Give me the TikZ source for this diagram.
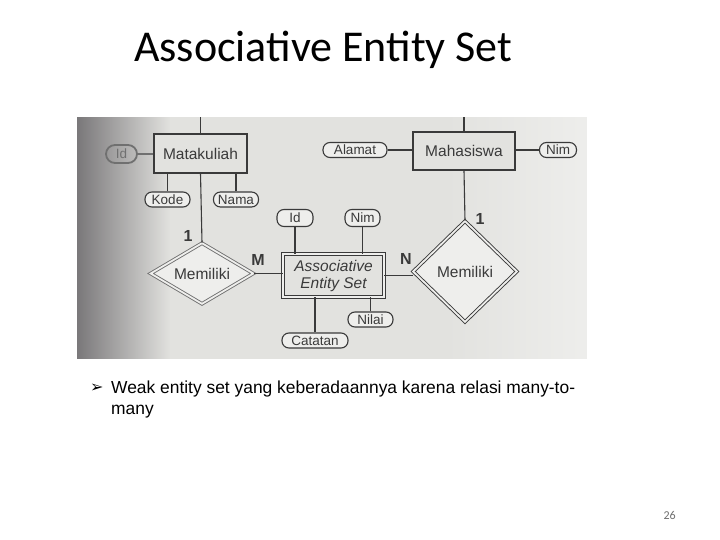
\documentclass[tikz,border=0pt]{standalone}
\usepackage{fontspec}
\setmainfont{Liberation Sans}
\newfontfamily\titlefont{Carlito}
\newfontfamily\symfont{DejaVu Sans}
\usetikzlibrary{shapes.geometric,fadings}
\definecolor{photobg}{RGB}{226,226,223}
\definecolor{photolight}{RGB}{238,238,236}
\definecolor{shadowc}{RGB}{122,120,122}
\definecolor{ink}{RGB}{58,58,58}
\definecolor{faded}{RGB}{112,112,112}
\definecolor{pagenum}{RGB}{110,110,110}
\tikzfading[name=fadeout right, left color=transparent!0, right color=transparent!100]
\tikzfading[name=fadein right, left color=transparent!100, right color=transparent!0]
\begin{document}
\begin{tikzpicture}[x=1pt,y=-1pt,
  ent/.style={draw=ink, line width=1.1pt, fill=photobg, text=ink, rectangle, inner sep=0pt,
              font=\fontsize{15.5}{18}\selectfont},
  dblent/.style={ent, double=photolight, double distance=1.8pt, line width=0.9pt, align=center,
              font=\fontsize{15.5}{18}\selectfont\itshape},
  attr/.style={draw=ink, line width=1.1pt, fill=photolight, text=ink, rectangle, rounded corners=7pt,
              inner sep=0pt, minimum height=15pt, font=\fontsize{13.5}{15}\selectfont},
  rel/.style={diamond, inner sep=0pt, text=ink, fill=photolight, double=photolight,
              double distance=1.8pt, line width=0.9pt, font=\fontsize{15.5}{18}\selectfont},
  conn/.style={draw=ink, line width=1.1pt},
  card/.style={text=ink, inner sep=0pt, font=\fontsize{16}{18}\selectfont\bfseries}
]
\useasboundingbox (0,0) rectangle (720,540);
\fill[white] (0,0) rectangle (720,540);

% title
\node[anchor=base west, inner sep=0pt, font=\titlefont\fontsize{44}{52}\selectfont] (title) at (134,62) {Associative Entity Set};

% photo background
\fill[photobg] (77,117) rectangle (587,359);
\fill[photolight, path fading=fadein right] (440,117) rectangle (587,359);
\fill[shadowc, path fading=fadeout right] (77,117) rectangle (170,359);

% entities
\node[ent, minimum width=93pt, minimum height=39pt] (mk) at (200.5,153.5) {Matakuliah};
\node[ent, minimum width=102pt, minimum height=38pt] (mhs) at (464,151) {Mahasiswa};
\node[dblent, minimum width=101pt, minimum height=43pt] (aes) at (333.5,275.5) {Associative\\[-1pt]Entity Set};

% relationships
\node[rel, draw=faded, aspect=1.67, minimum width=103pt, minimum height=61pt] (d1) at (202,273.5) {Memiliki};
\node[rel, draw=ink, aspect=1, minimum width=104pt, minimum height=101pt] (d2) at (465,271.5) {Memiliki};

% attributes
\node[attr, draw=faded, text=faded, line width=1.8pt, minimum width=31pt, minimum height=18pt, rounded corners=9pt, fill=none] (idL) at (121.5,154) {Id};
\node[attr, minimum width=45pt] (kode) at (167.5,199.5) {Kode};
\node[attr, minimum width=45pt] (nama) at (236,199.5) {Nama};
\node[attr, minimum width=36pt, minimum height=17pt] (id2) at (295,218) {Id};
\node[attr, minimum width=35pt, minimum height=17pt] (nim2) at (362.5,218) {Nim};
\node[attr, minimum width=66pt] (catatan) at (315,340.5) {Catatan};
\node[attr, minimum width=45pt] (nilai) at (370.5,319.5) {Nilai};
\node[attr, minimum width=64pt] (alamat) at (355,150) {Alamat};
\node[attr, minimum width=37pt] (nim1) at (558,150) {Nim};

% free ends at the photo's top edge
\coordinate (t1) at (200.5,117);
\coordinate (t2) at (464,117);

% connectors
\draw[conn] (mk.north) -- (t1);
\draw[conn] (mhs.north) -- (t2);
\draw[conn, draw=faded] (idL.east) -- (idL.east -| mk.west);
\draw[conn] (kode.north) -- (kode.north |- mk.south);
\draw[conn] (nama.north) -- (nama.north |- mk.south);
\draw[conn] (mk.south) -- (d1.north);
\draw[conn] (d1.east) -- (d1.east -| aes.west);
\draw[conn] (aes.east) -- (aes.east -| d2.west);
\draw[conn] (mhs.south) -- (d2.north);
\draw[conn] (id2.south) -- (id2.south |- aes.north);
\draw[conn] (nim2.south) -- (nim2.south |- aes.north);
\draw[conn] (catatan.north) -- (catatan.north |- aes.south);
\draw[conn] (nilai.north) -- (nilai.north |- aes.south);
\draw[conn] (alamat.east) -- (alamat.east -| mhs.west);
\draw[conn] (mhs.east |- nim1.west) -- (nim1.west);

% cardinalities
\node[card] (c1) at (188,236) {1};
\node[card] (cM) at (258,260) {M};
\node[card] (cN) at (406,259) {N};
\node[card] (c2) at (480,219) {1};

% bullet text
\node[anchor=base west, inner sep=0pt, font=\symfont\fontsize{16}{18}\selectfont] (bul) at (90,392) {➢};
\node[anchor=base west, inner sep=0pt, font=\fontsize{17.4}{21}\selectfont] (txt1) at (111,393)
  {Weak entity set yang keberadaannya karena relasi many-to-};
\node[anchor=base west, inner sep=0pt, font=\fontsize{17.4}{21}\selectfont] (txt2) at (111,414)
  {many};

% page number
\node[anchor=base east, inner sep=0pt, text=pagenum, font=\titlefont\fontsize{12}{14}\selectfont] (pg) at (676,519) {26};
\end{tikzpicture}
\end{document}
